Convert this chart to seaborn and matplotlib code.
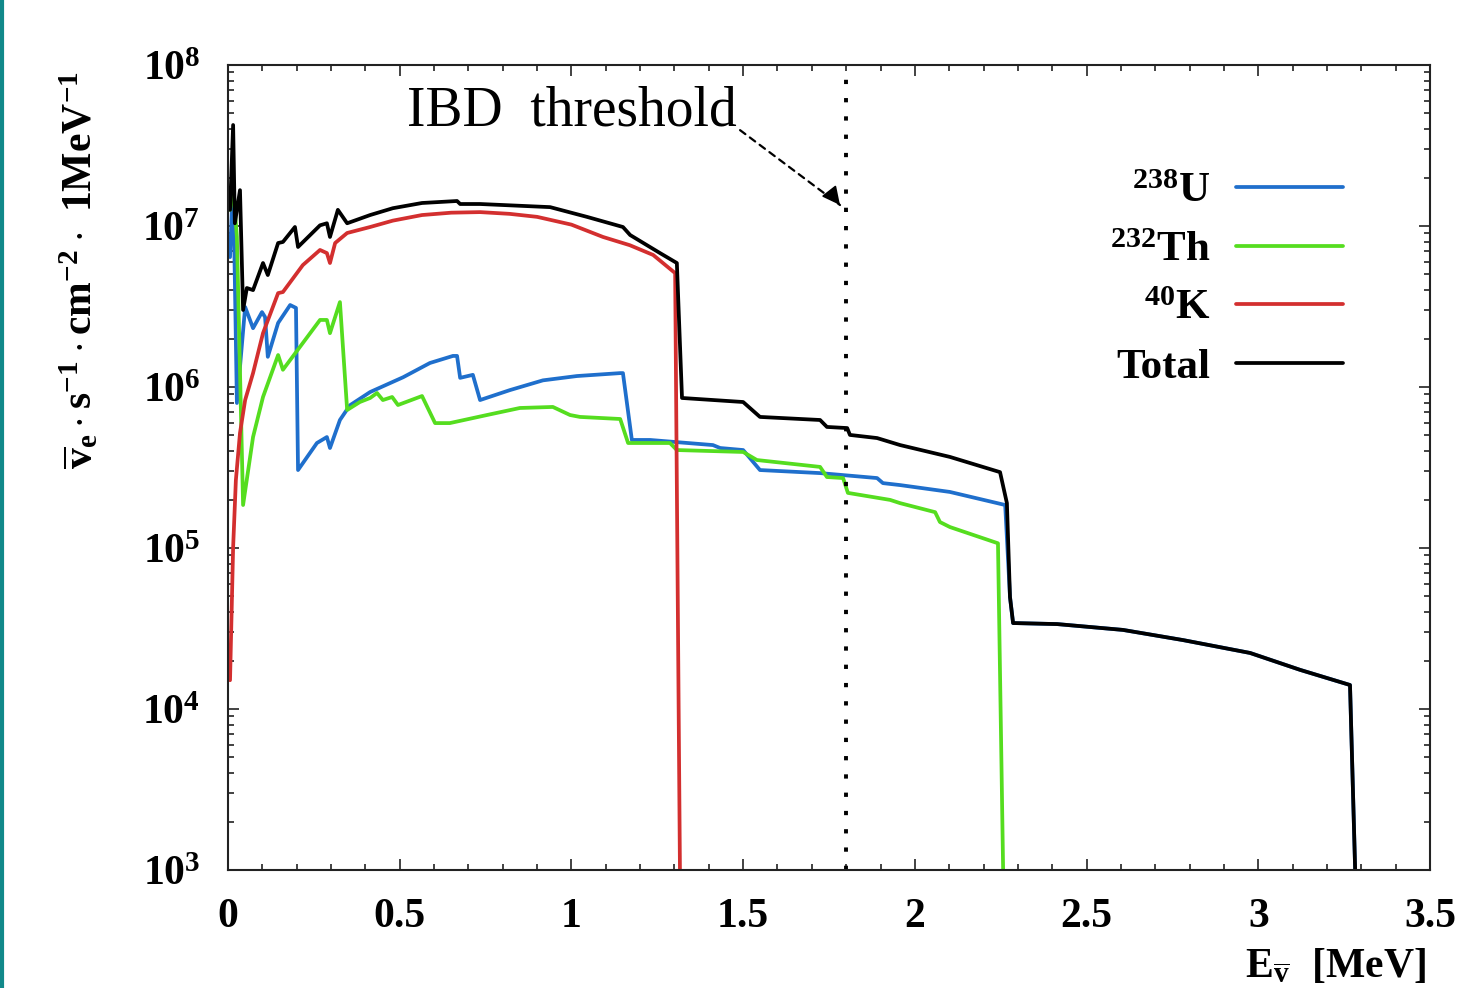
import numpy as np
import pandas as pd
import matplotlib
matplotlib.use("Agg")
import matplotlib.pyplot as plt
from matplotlib.lines import Line2D
import matplotlib.ticker as mticker
import seaborn as sns

# geo-neutrino flux per source (E in MeV)
u_e = [0.006, 0.015, 0.026, 0.050, 0.073, 0.099, 0.108, 0.116, 0.146, 0.181, 0.198, 0.204,
       0.259, 0.288, 0.297, 0.326, 0.355, 0.414, 0.510, 0.588, 0.655, 0.667, 0.676, 0.713,
       0.734, 0.821, 0.917, 1.016, 1.142, 1.150, 1.176, 1.229, 1.412, 1.433, 1.500, 1.549,
       1.724, 1.890, 1.907, 1.957, 2.102, 2.263, 2.277, 2.286, 2.414, 2.606, 2.781, 2.976,
       3.122, 3.267, 3.282]
u_flux = [6.41e6, 2.01e7, 7.96e5, 3.14e6, 2.32e6, 2.92e6, 2.72e6, 1.54e6, 2.50e6, 3.23e6, 3.10e6, 3.05e5,
          4.49e5, 4.89e5, 4.18e5, 6.24e5, 7.7e5, 9.31e5, 1.15e6, 1.41e6, 1.56e6, 1.56e6, 1.14e6, 1.19e6,
          8.30e5, 9.57e5, 1.10e6, 1.17e6, 1.22e6, 1.22e6, 4.69e5, 4.69e5, 4.36e5, 4.18e5, 4.06e5, 3.05e5,
          2.92e5, 2.72e5, 2.53e5, 2.46e5, 2.23e5, 1.85e5, 4.96e4, 3.42e4, 3.37e4, 3.10e4, 2.68e4, 2.23e4,
          1.75e4, 1.41e4, 1e3]

th_e = [0.006, 0.015, 0.026, 0.044, 0.073, 0.102, 0.146, 0.160, 0.268, 0.288, 0.297, 0.326,
        0.347, 0.384, 0.414, 0.434, 0.451, 0.478, 0.495, 0.565, 0.603, 0.646, 0.754, 0.850,
        0.946, 0.996, 1.025, 1.142, 1.165, 1.287, 1.307, 1.500, 1.540, 1.724, 1.744, 1.791,
        1.805, 1.928, 1.957, 2.059, 2.073, 2.102, 2.242, 2.257]
th_flux = [1.26e7, 1.75e7, 8.55e6, 1.85e5, 4.89e5, 8.67e5, 1.58e6, 1.28e6, 2.61e6, 2.61e6, 2.16e6, 3.37e6,
           7.20e5, 8.07e5, 8.55e5, 9.18e5, 8.30e5, 8.67e5, 7.73e5, 8.79e5, 5.97e5, 5.97e5, 6.70e5, 7.41e5,
           7.52e5, 6.70e5, 6.52e5, 6.33e5, 4.49e5, 4.49e5, 4.06e5, 3.95e5, 3.52e5, 3.19e5, 2.76e5, 2.72e5,
           2.20e5, 1.99e5, 1.90e5, 1.67e5, 1.45e5, 1.35e5, 1.07e5, 1e3]

k_e = [0.006, 0.015, 0.023, 0.035, 0.050, 0.073, 0.102, 0.146, 0.160, 0.218, 0.268, 0.288, 0.297,
       0.312, 0.347, 0.414, 0.480, 0.565, 0.650, 0.734, 0.820, 0.900, 1.000, 1.092, 1.170, 1.238,
       1.302, 1.316]
k_flux = [1.51e4, 1.01e5, 2.64e5, 5.18e5, 8.3e5, 1.22e6, 2.16e6, 3.83e6, 3.89e6, 5.72e6, 7.10e6, 6.79e6,
          5.89e6, 7.84e6, 9.05e6, 9.86e6, 1.08e7, 1.17e7, 1.21e7, 1.22e7, 1.19e7, 1.14e7, 1.02e7,
          8.55e6, 7.6e6, 6.61e6, 5.10e6, 1e3]

tot_e = [0.006, 0.015, 0.020, 0.035, 0.044, 0.055, 0.073, 0.102, 0.116, 0.146, 0.160, 0.195,
         0.204, 0.268, 0.288, 0.297, 0.320, 0.347, 0.414, 0.480, 0.565, 0.667, 0.676, 0.734, 0.938,
         1.045, 1.150, 1.171, 1.258, 1.307, 1.322, 1.500, 1.549, 1.724, 1.744, 1.803, 1.811,
         1.890, 1.957, 2.102, 2.248, 2.268, 2.277, 2.286, 2.414, 2.606, 2.781, 2.976, 3.122,
         3.267, 3.282]
tot_flux = [1.26e7, 4.24e7, 1.04e7, 1.67e7, 3.01e6, 4.12e6, 4.00e6, 5.89e6, 4.96e6, 7.84e6, 7.96e6, 9.86e6,
            7.41e6, 1.01e7, 1.04e7, 8.55e6, 1.26e7, 1.04e7, 1.17e7, 1.29e7, 1.39e7, 1.43e7, 1.37e7, 1.37e7,
            1.31e7, 1.14e7, 9.86e6, 8.79e6, 6.79e6, 5.89e6, 8.55e5, 8.07e5, 6.52e5, 6.24e5, 5.65e5, 5.56e5,
            5.04e5, 4.82e5, 4.36e5, 3.68e5, 2.96e5, 1.90e5, 4.96e4, 3.42e4, 3.37e4, 3.10e4, 2.68e4, 2.23e4,
            1.75e4, 1.41e4, 1e3]

series = [
    (r"$^{238}\mathrm{U}$", u_e, u_flux, "#1f6fcc"),
    (r"$^{232}\mathrm{Th}$", th_e, th_flux, "#55dd1f"),
    (r"$^{40}\mathrm{K}$", k_e, k_flux, "#d32f2f"),
    ("Total", tot_e, tot_flux, "black"),
]

ibd_threshold = 1.8
xticks = [0, 0.5, 1, 1.5, 2, 2.5, 3, 3.5]
xticklabels = ["0", "0.5", "1", "1.5", "2", "2.5", "3", "3.5"]
ydecades = [3, 4, 5, 6, 7, 8]

sns.set_style("ticks")
plt.rcParams["font.family"] = ["Liberation Serif", "DejaVu Serif"]
plt.rcParams["font.weight"] = "bold"
plt.rcParams["text.color"] = "black"
plt.rcParams["axes.labelcolor"] = "black"
plt.rcParams["mathtext.fontset"] = "custom"
plt.rcParams["mathtext.rm"] = "Liberation Serif:bold"
plt.rcParams["mathtext.it"] = "Liberation Serif:bold"
plt.rcParams["mathtext.bf"] = "Liberation Serif:bold"

fig = plt.figure(figsize=(14.67, 9.88), dpi=100)
ax = fig.add_axes([0.1554, 0.1194, 0.8194, 0.8148])

for name, e, f, c in series:
    df = pd.DataFrame({"E": e, "flux": f})
    sns.lineplot(data=df, x="E", y="flux", color=c, lw=2.7, estimator=None, sort=False,
                 label=name, ax=ax)

ax.set_yscale("log")
ax.set_xlim(0, 3.5)
ax.set_ylim(1e3, 1e8)

ax.set_xticks(xticks)
ax.set_xticklabels(xticklabels)
ax.xaxis.set_minor_locator(mticker.MultipleLocator(0.1))
ax.set_yticks([10.0 ** d for d in ydecades])
ax.set_yticklabels([r"$\mathrm{10^{%d}}$" % d for d in ydecades])
ax.yaxis.set_minor_locator(mticker.LogLocator(base=10, subs=np.arange(2, 10)))
ax.yaxis.set_minor_formatter(mticker.NullFormatter())

ax.tick_params(which="both", direction="in", top=True, right=True, colors="#222222",
               labelcolor="black", width=1.2)
ax.tick_params(which="major", length=8)
ax.tick_params(which="minor", length=4.5)
ax.tick_params(axis="x", which="major", labelsize=30, pad=20)
ax.tick_params(axis="y", which="major", labelsize=30, pad=20)
for s in ax.spines.values():
    s.set_linewidth(1.5)
    s.set_color("#222222")

ax.set_ylabel(r"$\overline{\mathrm{v}}_{\mathrm{e}}\cdot\mathrm{s}^{-1}\cdot\mathrm{cm}^{-2}\cdot\ \mathrm{1MeV}^{-1}$",
              fontsize=30)
ax.yaxis.set_label_coords(-0.105, 0.745)
ax.set_xlabel(r"$\mathrm{E}_{\overline{\mathrm{v}}}\ \ \mathrm{[MeV]}$", fontsize=30, ha="right")
ax.xaxis.set_label_coords(0.997, -0.095)

# IBD threshold marker
ax.axvline(ibd_threshold, color="black", lw=2.8, ls=(0, (1.1, 3.6)))
ax.text(0.521, 4.24e7, "IBD  threshold", fontsize=40, fontweight="normal", color="black",
        ha="left", va="baseline")
ax.annotate("", xy=(1.782, 1.35e7), xytext=(1.491, 3.94e7),
            arrowprops=dict(arrowstyle="-", lw=1.6, ls=(0, (3, 2.5)), color="black",
                            shrinkA=0, shrinkB=0))
ax.annotate("", xy=(1.782, 1.35e7), xytext=(1.76, 1.55e7),
            arrowprops=dict(arrowstyle="-|>", lw=1.2, color="black", mutation_scale=28,
                            shrinkA=0, shrinkB=0))

leg = ax.legend(loc="upper right", bbox_to_anchor=(0.928, 0.867), frameon=False,
                markerfirst=False, fontsize=31, handlelength=2.5, handletextpad=0.6,
                labelspacing=0.45, borderpad=0, borderaxespad=0)
for t in leg.get_texts():
    t.set_ha("right")

# teal strip at the left edge
fig.add_artist(Line2D([0.0012, 0.0012], [0, 1], transform=fig.transFigure,
                      color="#11898a", lw=3))

fig.savefig("out.png", dpi=100)
